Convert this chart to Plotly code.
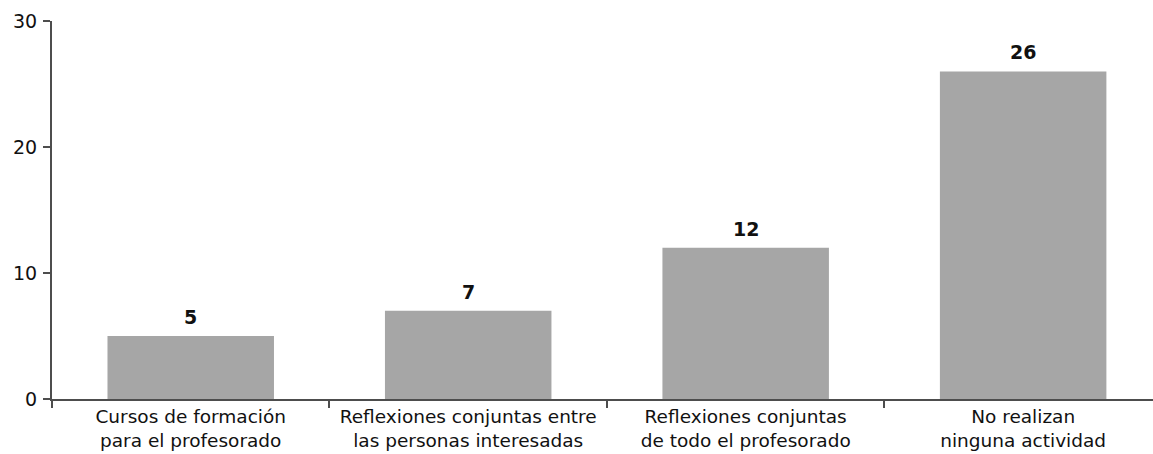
import plotly.graph_objects as go

# Activities carried out by the teaching staff
categories = [
    "Cursos de formación<br>para el profesorado",
    "Reflexiones conjuntas entre<br>las personas interesadas",
    "Reflexiones conjuntas<br>de todo el profesorado",
    "No realizan<br>ninguna actividad",
]
values = [5, 7, 12, 26]
y_ticks = [0, 10, 20, 30]

BAR_COLOR = "#a6a6a6"
AXIS_COLOR = "#4d4d4d"
FONT = "DejaVu Sans"

fig = go.Figure(
    go.Bar(
        x=categories,
        y=values,
        marker=dict(color=BAR_COLOR, line=dict(width=0)),
        hoverinfo="x+y",
    )
)

# value labels above each bar
for cat, val in zip(categories, values):
    fig.add_annotation(
        x=cat, y=val, text=f"<b>{val}</b>",
        showarrow=False, yanchor="bottom", yshift=6,
        font=dict(family=FONT, size=19, color="#111111"),
    )

fig.update_layout(
    width=1153, height=454,
    margin=dict(l=52, r=0, t=21, b=55),
    paper_bgcolor="white", plot_bgcolor="white",
    bargap=0.4,
    showlegend=False,
    font=dict(family=FONT, size=18.5, color="#111111"),
)

fig.update_xaxes(
    type="category",
    range=[-0.5, 3.468],
    showline=True, linecolor=AXIS_COLOR, linewidth=2,
    ticks="outside", tickson="boundaries", ticklen=7,
    tickcolor=AXIS_COLOR, tickwidth=1.5,
    showgrid=False, zeroline=False,
    tickfont=dict(family=FONT, size=18.5, color="#111111"),
)

fig.update_yaxes(
    range=[0, 30],
    tickvals=y_ticks,
    showline=True, linecolor=AXIS_COLOR, linewidth=2,
    ticks="outside", ticklen=7, tickcolor=AXIS_COLOR, tickwidth=1.5,
    showgrid=False, zeroline=False,
    ticklabelstandoff=2,
    tickfont=dict(family=FONT, size=19, color="#111111"),
)

fig.write_html("out.html")
